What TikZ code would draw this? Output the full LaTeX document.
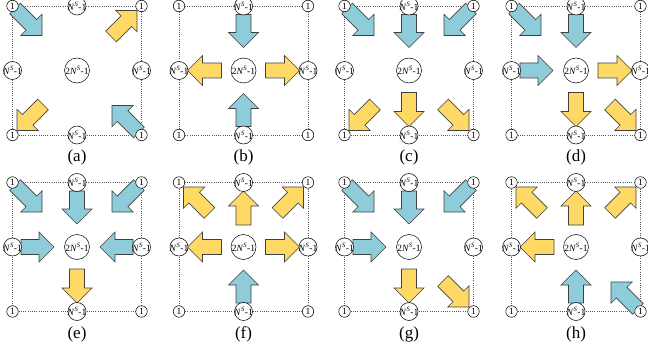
\documentclass[tikz,border=0pt]{standalone}
\usepackage{fontspec}
\setmainfont{Liberation Serif}
\usetikzlibrary{calc,backgrounds}
\definecolor{inblue}{RGB}{142,204,218}
\definecolor{outyel}{RGB}{255,217,102}
\tikzset{
  gridline/.style={dash pattern=on 0.6pt off 1.6pt, black!65, line width=0.6pt},
  blockline/.style={draw=black!75, line width=0.6pt, line join=miter},
  cnode/.style={circle, draw=black, fill=white, line width=0.5pt, minimum size=11.5pt, inner sep=0pt, font=\fontsize{9.5}{10}\selectfont},
  enode/.style={cnode, minimum size=18pt},
  mnode/.style={cnode, minimum size=25pt},
  lab/.style={font=\fontsize{17}{19}\selectfont, inner sep=0pt}
}
\newcommand\NSt{\textit{N}\textsuperscript{\textit{S}}-1}
\newcommand\barr[3]{%
  \coordinate (bA) at #2; \coordinate (bB) at #3;
  \coordinate (bH) at ($(bB)!15pt!(bA)$);
  \draw[blockline, fill=#1] ($(bA)!7.5pt!90:(bB)$) -- ($(bH)!7.5pt!90:(bB)$) -- ($(bH)!15pt!90:(bB)$) -- (bB)
    -- ($(bH)!15pt!-90:(bB)$) -- ($(bH)!7.5pt!-90:(bB)$) -- ($(bA)!7.5pt!-90:(bB)$) -- cycle;}
\newcommand\dIn[2]{\barr{inblue}{({#1*62},{#2*62})}{({#1*35},{#2*35})}}
\newcommand\dOut[2]{\barr{outyel}{({#1*34},{#2*34})}{({#1*60},{#2*60})}}
\newcommand\sIn[2]{\barr{inblue}{({#1*56},{#2*56})}{({#1*23},{#2*23})}}
\newcommand\sOut[2]{\barr{outyel}{({#1*22},{#2*22})}{({#1*56},{#2*56})}}
\newcommand\panel[4]{%
\begin{scope}[shift={(#1,#2)}]
  \node[cnode] (#3tl) at (-64.5,-64.5) {\makebox[0pt]{1}};
  \node[enode] (#3tm) at (0,-64.5) {\makebox[0pt]{\NSt}};
  \node[cnode] (#3tr) at (64.5,-64.5) {\makebox[0pt]{1}};
  \node[enode] (#3ml) at (-64.5,0) {\makebox[0pt]{\NSt}};
  \node[mnode] (#3mm) at (0,0) {\makebox[0pt]{2\NSt}};
  \node[enode] (#3mr) at (64.5,0) {\makebox[0pt]{\NSt}};
  \node[cnode] (#3bl) at (-64.5,64.5) {\makebox[0pt]{1}};
  \node[enode] (#3bm) at (0,64.5) {\makebox[0pt]{\NSt}};
  \node[cnode] (#3br) at (64.5,64.5) {\makebox[0pt]{1}};
  \node[lab] (#3lab) at (0,87) {(#3)};
  \begin{pgfonlayer}{background}
    \draw[gridline] (#3tl) -- (#3tm) -- (#3tr) -- (#3mr) -- (#3br) -- (#3bm) -- (#3bl) -- (#3ml) -- (#3tl);
    #4
  \end{pgfonlayer}
\end{scope}}
\begin{document}
\begin{tikzpicture}[x=1pt, y=-1pt]
\useasboundingbox (0,0) rectangle (648,350);
% top row
\panel{77}{70.5}{a}{\dIn{-1}{-1}\dOut{1}{-1}\dOut{-1}{1}\dIn{1}{1}}
\panel{243.5}{70.5}{b}{\sIn{0}{-1}\sOut{-1}{0}\sOut{1}{0}\sIn{0}{1}}
\panel{409}{70.5}{c}{\dIn{-1}{-1}\sIn{0}{-1}\dIn{1}{-1}\dOut{-1}{1}\sOut{0}{1}\dOut{1}{1}}
\panel{576}{70.5}{d}{\dIn{-1}{-1}\sIn{0}{-1}\sIn{-1}{0}\sOut{1}{0}\sOut{0}{1}\dOut{1}{1}}
% bottom row
\panel{77}{247}{e}{\dIn{-1}{-1}\sIn{0}{-1}\dIn{1}{-1}\sIn{-1}{0}\sIn{1}{0}\sOut{0}{1}}
\panel{243.5}{247}{f}{\dOut{-1}{-1}\sOut{0}{-1}\dOut{1}{-1}\sOut{-1}{0}\sOut{1}{0}\sIn{0}{1}}
\panel{409}{247}{g}{\dIn{-1}{-1}\sIn{0}{-1}\dIn{1}{-1}\sIn{-1}{0}\sOut{0}{1}\dOut{1}{1}}
\panel{576}{247}{h}{\dOut{-1}{-1}\sOut{0}{-1}\dOut{1}{-1}\sOut{-1}{0}\sIn{0}{1}\dIn{1}{1}}
\end{tikzpicture}
\end{document}
